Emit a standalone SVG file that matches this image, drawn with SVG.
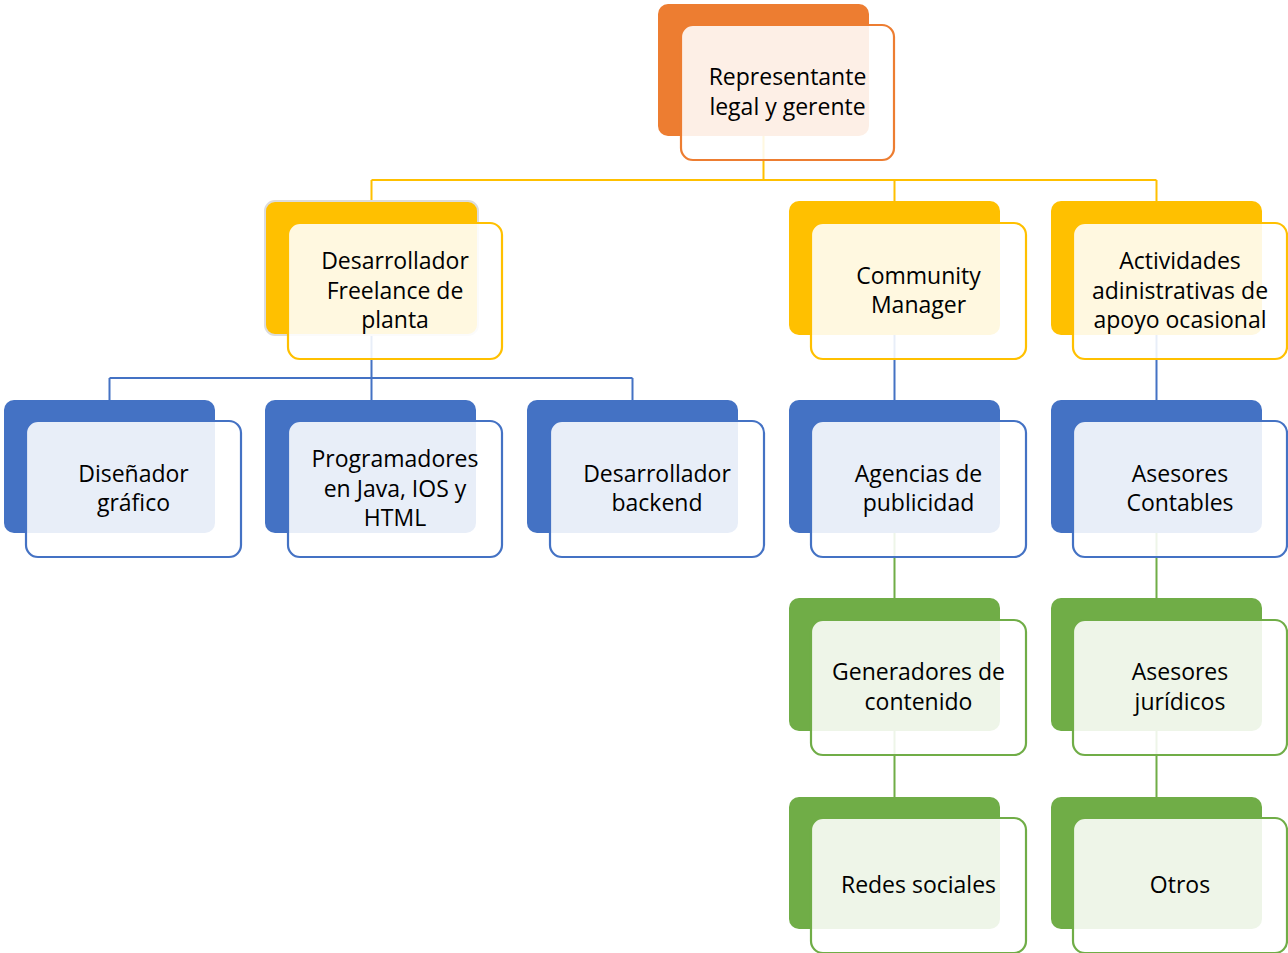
<svg xmlns="http://www.w3.org/2000/svg" width="1288" height="953" viewBox="0 0 1288 953">
<style>
.bk{stroke:none}
.fr{fill:#fff;fill-opacity:0.88;stroke-width:2.2}
.o .bk{fill:#ED7D31}.o .fr{stroke:#ED7D31}
.y .bk{fill:#FFC000}.y .fr{stroke:#FFC000}
.b .bk{fill:#4472C4}.b .fr{stroke:#4472C4}
.g .bk{fill:#70AD47}.g .fr{stroke:#70AD47}
text{font-family:"Open Sans","Liberation Sans",sans-serif;font-size:23px;fill:#000;text-anchor:middle}
.cy{stroke:#FFC000;stroke-width:2;fill:none}
.cb{stroke:#4472C4;stroke-width:2;fill:none}
.cg{stroke:#70AD47;stroke-width:2;fill:none}
</style>
<g id="connectors">
<path class="cy" d="M763.5 136V180M371.5 180H1156.5M371.5 180V201M894.5 180V201M1156.5 180V201"/>
<path class="cb" d="M371.5 335V378M109.5 378H632.5M109.5 378V400M371.5 378V400M632.5 378V400M894.5 335V400M1156.5 335V400"/>
<path class="cg" d="M894.5 533V598M894.5 731V797M1156.5 533V598M1156.5 731V797"/>
</g>
<g id="n-representante" class="o">
<rect class="bk" x="658" y="4" width="211" height="132" rx="10"/>
<rect class="fr" x="681" y="25" width="213" height="135" rx="12"/>
<text x="787.5" y="85">Representante</text>
<text x="787.5" y="115">legal y gerente</text>
</g>
<g id="n-freelance" class="y">
<rect class="bk" x="265" y="201" width="213" height="134" rx="10" style="stroke:#dcdcdc;stroke-width:2"/>
<rect class="fr" x="288" y="223" width="214" height="136" rx="12"/>
<text x="395" y="269">Desarrollador</text>
<text x="395" y="298.5">Freelance de</text>
<text x="395" y="328">planta</text>
</g>
<g id="n-community" class="y">
<rect class="bk" x="789" y="201" width="211" height="134" rx="10"/>
<rect class="fr" x="811" y="223" width="215" height="136" rx="12"/>
<text x="918.5" y="284">Community</text>
<text x="918.5" y="313">Manager</text>
</g>
<g id="n-actividades" class="y">
<rect class="bk" x="1051" y="201" width="211" height="134" rx="10"/>
<rect class="fr" x="1073" y="223" width="214" height="136" rx="12"/>
<text x="1180" y="269">Actividades</text>
<text x="1180" y="298.5">adinistrativas de</text>
<text x="1180" y="328">apoyo ocasional</text>
</g>
<g id="n-disenador" class="b">
<rect class="bk" x="4" y="400" width="211" height="133" rx="10"/>
<rect class="fr" x="26" y="421" width="215" height="136" rx="12"/>
<text x="133.5" y="482">Diseñador</text>
<text x="133.5" y="511">gráfico</text>
</g>
<g id="n-programadores" class="b">
<rect class="bk" x="265" y="400" width="211" height="133" rx="10"/>
<rect class="fr" x="288" y="421" width="214" height="136" rx="12"/>
<text x="395" y="467">Programadores</text>
<text x="395" y="497">en Java, IOS y</text>
<text x="395" y="526">HTML</text>
</g>
<g id="n-backend" class="b">
<rect class="bk" x="527" y="400" width="211" height="133" rx="10"/>
<rect class="fr" x="550" y="421" width="214" height="136" rx="12"/>
<text x="657" y="482">Desarrollador</text>
<text x="657" y="511">backend</text>
</g>
<g id="n-agencias" class="b">
<rect class="bk" x="789" y="400" width="211" height="133" rx="10"/>
<rect class="fr" x="811" y="421" width="215" height="136" rx="12"/>
<text x="918.5" y="482">Agencias de</text>
<text x="918.5" y="511">publicidad</text>
</g>
<g id="n-contables" class="b">
<rect class="bk" x="1051" y="400" width="211" height="133" rx="10"/>
<rect class="fr" x="1073" y="421" width="214" height="136" rx="12"/>
<text x="1180" y="482">Asesores</text>
<text x="1180" y="511">Contables</text>
</g>
<g id="n-generadores" class="g">
<rect class="bk" x="789" y="598" width="211" height="133" rx="10"/>
<rect class="fr" x="811" y="620" width="215" height="135" rx="12"/>
<text x="918.5" y="680">Generadores de</text>
<text x="918.5" y="710">contenido</text>
</g>
<g id="n-juridicos" class="g">
<rect class="bk" x="1051" y="598" width="211" height="133" rx="10"/>
<rect class="fr" x="1073" y="620" width="214" height="135" rx="12"/>
<text x="1180" y="680">Asesores</text>
<text x="1180" y="710">jurídicos</text>
</g>
<g id="n-redes" class="g">
<rect class="bk" x="789" y="797" width="211" height="132" rx="10"/>
<rect class="fr" x="811" y="818" width="215" height="135" rx="12"/>
<text x="918.5" y="893">Redes sociales</text>
</g>
<g id="n-otros" class="g">
<rect class="bk" x="1051" y="797" width="211" height="132" rx="10"/>
<rect class="fr" x="1073" y="818" width="214" height="135" rx="12"/>
<text x="1180" y="893">Otros</text>
</g>
</svg>
